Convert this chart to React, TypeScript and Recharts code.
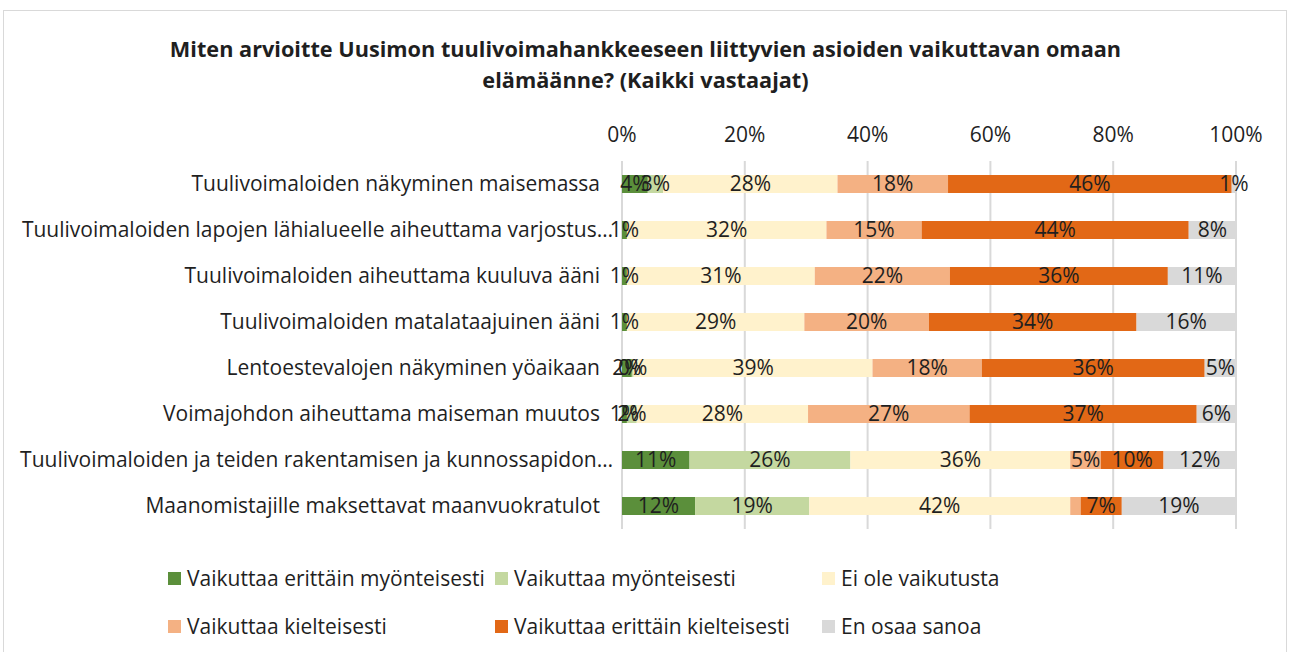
import { BarChart, Bar, XAxis, YAxis, CartesianGrid, Legend, LabelList } from 'recharts';

const categories = [
  'Tuulivoimaloiden näkyminen maisemassa',
  'Tuulivoimaloiden lapojen lähialueelle aiheuttama varjostus…',
  'Tuulivoimaloiden aiheuttama kuuluva ääni',
  'Tuulivoimaloiden matalataajuinen ääni',
  'Lentoestevalojen näkyminen yöaikaan',
  'Voimajohdon aiheuttama maiseman muutos',
  'Tuulivoimaloiden ja teiden rakentamisen ja kunnossapidon…',
  'Maanomistajille maksettavat maanvuokratulot',
];

const seriesNames = [
  'Vaikuttaa erittäin myönteisesti',
  'Vaikuttaa myönteisesti',
  'Ei ole vaikutusta',
  'Vaikuttaa kielteisesti',
  'Vaikuttaa erittäin kielteisesti',
  'En osaa sanoa',
];

const seriesColors = ['#5B8F3B', '#C4D8A0', '#FFF2CC', '#F4B183', '#E26816', '#D9D9D9'];

// estimated shares (%) per series, one value per category
const veryPositive = [4.2, 0.8, 0.8, 0.8, 1.6, 0.8, 11.0, 11.9];
const positive = [2.5, 0, 0, 0, 0.3, 1.6, 26.2, 18.6];
const noEffect = [28.4, 32.5, 30.6, 28.9, 38.9, 27.9, 35.8, 42.5];
const negative = [18.0, 15.5, 22.0, 20.3, 17.8, 26.3, 5.0, 1.7];
const veryNegative = [46.2, 43.5, 35.5, 33.8, 36.3, 37.0, 10.2, 6.7];
const dontKnow = [0.7, 7.7, 11.1, 16.2, 5.1, 6.4, 11.8, 18.6];

// data labels as printed on the chart
const veryPositiveLabels = ['4%', '1%', '1%', '1%', '2%', '1%', '11%', '12%'];
const positiveLabels = ['3%', '', '', '', '0%', '2%', '26%', '19%'];
const noEffectLabels = ['28%', '32%', '31%', '29%', '39%', '28%', '36%', '42%'];
const negativeLabels = ['18%', '15%', '22%', '20%', '18%', '27%', '5%', ''];
const veryNegativeLabels = ['46%', '44%', '36%', '34%', '36%', '37%', '10%', '7%'];
const dontKnowLabels = ['1%', '8%', '11%', '16%', '5%', '6%', '12%', '19%'];

const xTicks = [0, 20, 40, 60, 80, 100];

const values = [veryPositive, positive, noEffect, negative, veryNegative, dontKnow];
const labels = [veryPositiveLabels, positiveLabels, noEffectLabels, negativeLabels, veryNegativeLabels, dontKnowLabels];

const data = categories.map((name, i) => {
  const row: Record<string, string | number> = { name };
  values.forEach((arr, s) => {
    row['v' + s] = arr[i];
    row['l' + s] = labels[s][i];
  });
  return row;
});

const FONT = '"Open Sans", "Noto Sans", sans-serif';
const TEXT = '#1f1f1f';
const FS = 21;

// truncated labels hang a bit past the others, like in the original
function CategoryTick(props: any) {
  const { x, y, payload } = props;
  const v: string = payload.value;
  const dx = v.endsWith('…') ? 13 : 0;
  return (
    <text x={x + dx} y={y} dy={7} textAnchor="end" fill={TEXT} fontSize={FS} fontFamily={FONT}>
      {v}
    </text>
  );
}

function LegendGrid() {
  return (
    <div
      style={{
        display: 'grid',
        gridTemplateColumns: '327px 327px 300px',
        rowGap: 24,
        paddingLeft: 168,
        fontFamily: FONT,
        fontSize: FS,
        color: TEXT,
      }}
    >
      {seriesNames.map((n, i) => (
        <div key={n} style={{ display: 'flex', alignItems: 'center', height: 24 }}>
          <span style={{ width: 13, height: 13, background: seriesColors[i], marginRight: 6, display: 'inline-block' }} />
          <span>{n}</span>
        </div>
      ))}
    </div>
  );
}

export default function App() {
  return (
    <div style={{ position: 'absolute', left: 0, top: 0, width: 1291, height: 652, background: '#fff', overflow: 'hidden' }}>
      <div
        style={{
          position: 'absolute',
          left: 3,
          top: 10,
          width: 1284,
          height: 660,
          border: '1px solid #D9D9D9',
          boxSizing: 'border-box',
        }}
      />
      <div
        style={{
          position: 'absolute',
          left: 0,
          top: 33,
          width: 1291,
          textAlign: 'center',
          fontFamily: FONT,
          fontWeight: 'bold',
          fontSize: 21.7,
          lineHeight: '31px',
          color: TEXT,
        }}
      >
        Miten arvioitte Uusimon tuulivoimahankkeeseen liittyvien asioiden vaikuttavan omaan
        <br />
        elämäänne? (Kaikki vastaajat)
      </div>
      <div style={{ position: 'absolute', left: 0, top: 0 }}>
        <BarChart
          width={1291}
          height={652}
          data={data}
          layout="vertical"
          margin={{ top: 121, right: 55, bottom: 123, left: 0 }}
          barSize={18}
        >
          <CartesianGrid horizontal={false} stroke="#D9D9D9" strokeWidth={2} />
          <XAxis
            type="number"
            orientation="top"
            domain={[0, 100]}
            ticks={xTicks}
            tickFormatter={(v: number) => `${v}%`}
            axisLine={false}
            tickLine={false}
            tickSize={0}
            tickMargin={19}
            height={40}
            tick={{ fill: TEXT, fontSize: FS, fontFamily: FONT }}
            allowDataOverflow
          />
          <YAxis
            type="category"
            dataKey="name"
            width={622}
            axisLine={false}
            tickLine={false}
            tickSize={0}
            tickMargin={22}
            interval={0}
            tick={<CategoryTick />}
          />
          {seriesNames.map((n, s) => (
            <Bar key={n} dataKey={'v' + s} name={n} stackId="a" fill={seriesColors[s]} isAnimationActive={false}>
              <LabelList dataKey={'l' + s} position="center" fill={TEXT} fontSize={FS} fontFamily={FONT} />
            </Bar>
          ))}
          <Legend
            layout="horizontal"
            verticalAlign="middle"
            align="center"
            wrapperStyle={{ top: 566, left: 0, width: 1291 }}
            content={() => <LegendGrid />}
          />
        </BarChart>
      </div>
    </div>
  );
}
